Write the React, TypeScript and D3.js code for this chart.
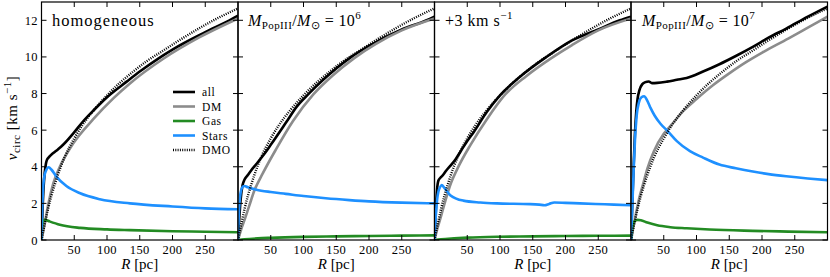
import * as d3 from "d3"
import React from "react"

type Pt = [number, number]

// axis ticks
const rTicks = [50, 100, 150, 200, 250]
const vTicks = [0, 2, 4, 6, 8, 10, 12]

// dark-matter-only run, same in every panel
const dmo: Pt[] = [[0, 0], [3, 0.55], [6, 1.05], [10, 1.7], [15, 2.4], [20, 3.0], [25, 3.55], [35, 4.5], [50, 5.55], [62, 6.25], [80, 7.1], [100, 7.9], [120, 8.6], [140, 9.2], [160, 9.75], [186, 10.35], [210, 10.9], [240, 11.55], [268, 12.1], [300, 12.65]]

// homogeneous
const allHom: Pt[] = [[0, 0], [2, 2.0], [4, 3.3], [6, 4.0], [8, 4.35], [12, 4.55], [18, 4.75], [25, 4.95], [33, 5.2], [48, 5.8], [64, 6.5], [80, 7.1], [100, 7.8], [130, 8.65], [150, 9.2], [180, 9.95], [200, 10.4], [250, 11.35], [287, 12.0], [300, 12.25]]
const dmHom: Pt[] = [[0, 0], [5, 0.9], [10, 1.9], [18, 3.1], [28, 4.0], [48, 5.25], [79, 6.6], [110, 7.75], [135, 8.55], [186, 9.9], [240, 11.05], [300, 12.1]]
const gasHom: Pt[] = [[0, 0], [1, 0.7], [3, 1.05], [6, 1.1], [12, 1.02], [28, 0.83], [59, 0.66], [100, 0.58], [135, 0.54], [200, 0.48], [250, 0.45], [300, 0.42]]
const starsHom: Pt[] = [[0, 0], [1, 1.5], [2, 2.6], [4, 3.4], [7, 3.8], [11, 3.97], [15, 3.85], [23, 3.45], [38, 2.95], [59, 2.55], [89, 2.23], [135, 2.0], [200, 1.83], [250, 1.73], [300, 1.68]]

// M_PopIII = 1e6
const all6: Pt[] = [[0, 0], [2, 1.2], [4, 2.2], [7, 3.0], [10, 3.3], [15, 3.55], [20, 3.8], [28, 4.15], [38, 4.6], [50, 5.2], [73, 6.4], [90, 7.3], [107, 7.95], [130, 8.75], [171, 9.95], [200, 10.6], [250, 11.5], [288, 12.0], [300, 12.2]]
const dm6: Pt[] = [[0, 0], [5, 0.6], [10, 1.1], [17, 1.85], [25, 2.7], [38, 3.65], [58, 4.95], [84, 6.5], [115, 7.95], [145, 9.0], [178, 9.95], [210, 10.7], [250, 11.45], [300, 12.1]]
const gas6: Pt[] = [[0, 0], [10, 0.04], [30, 0.09], [50, 0.12], [100, 0.17], [150, 0.2], [200, 0.22], [250, 0.24], [300, 0.25]]
const stars6: Pt[] = [[0, 0], [1, 1.2], [3, 2.3], [5, 2.75], [8, 2.93], [10, 2.95], [15, 2.88], [28, 2.75], [50, 2.62], [73, 2.52], [100, 2.4], [134, 2.28], [170, 2.18], [200, 2.11], [250, 2.04], [300, 2.0]]

// +3 km/s
const allKick: Pt[] = [[0, 0], [2, 1.6], [4, 2.8], [6, 3.25], [9, 3.4], [13, 3.55], [18, 3.8], [24, 4.05], [32, 4.4], [40, 4.85], [48, 5.3], [60, 5.9], [80, 7.0], [100, 7.9], [130, 8.9], [171, 10.0], [210, 10.9], [250, 11.5], [283, 12.0], [300, 12.2]]
const dmKick: Pt[] = [[0, 0], [5, 0.7], [10, 1.3], [15, 1.95], [25, 3.1], [35, 3.9], [55, 5.2], [80, 6.6], [108, 7.95], [140, 8.95], [179, 9.95], [210, 10.65], [250, 11.45], [300, 12.1]]
const gasKick: Pt[] = [[0, 0], [10, 0.04], [30, 0.09], [50, 0.13], [100, 0.18], [150, 0.2], [200, 0.22], [250, 0.23], [300, 0.24]]
const starsKick: Pt[] = [[0, 0], [2, 1.3], [4, 2.2], [6, 2.65], [8, 2.85], [11, 3.0], [15, 2.85], [24, 2.45], [44, 2.15], [70, 2.05], [95, 2.0], [146, 1.96], [160, 1.93], [168, 1.9], [175, 1.97], [183, 2.05], [200, 2.03], [222, 2.0], [260, 1.95], [300, 1.9]]

// M_PopIII = 1e7
const all7: Pt[] = [[0, 0], [2, 2.0], [4, 4.0], [6, 5.8], [8, 7.0], [10, 7.7], [13, 8.2], [17, 8.5], [22, 8.62], [27, 8.66], [32, 8.57], [40, 8.58], [55, 8.65], [70, 8.75], [85, 8.85], [110, 9.2], [135, 9.6], [160, 10.05], [186, 10.55], [210, 11.05], [237, 11.55], [270, 12.2], [300, 12.75]]
const dm7: Pt[] = [[0, 0], [3, 0.6], [6, 1.15], [12, 2.2], [18, 3.0], [25, 3.9], [35, 4.85], [50, 5.8], [62, 6.3], [80, 7.05], [100, 7.7], [125, 8.45], [150, 9.1], [175, 9.7], [201, 10.25], [240, 11.0], [270, 11.6], [300, 12.2]]
const gas7: Pt[] = [[0, 0], [2, 0.6], [5, 1.0], [10, 1.1], [15, 1.08], [25, 0.95], [40, 0.8], [60, 0.7], [85, 0.64], [120, 0.57], [186, 0.5], [240, 0.46], [300, 0.42]]
const stars7: Pt[] = [[0, 0], [2, 1.8], [4, 3.8], [6, 5.4], [9, 6.9], [12, 7.5], [16, 7.8], [20, 7.85], [25, 7.6], [30, 7.2], [36, 6.8], [45, 6.35], [56, 5.95], [70, 5.4], [90, 4.85], [110, 4.5], [135, 4.12], [160, 3.92], [186, 3.74], [210, 3.6], [237, 3.48], [270, 3.36], [300, 3.27]]

const legendItems = ["all", "DM", "Gas", "Stars", "DMO"]

const colors: Record<string, string> = {
  all: "#000000",
  DM: "#8c8c8c",
  Gas: "#238b23",
  Stars: "#1e90ff",
  DMO: "#000000",
}

const serif = { fontFamily: "Liberation Serif" }

const left = 41.5
const pw = 196.5
const top = 2
const bottom = 240

function Title({ i, x, y }: { i: number; x: number; y: number }) {
  if (i === 0)
    return (
      <text x={x} y={y} fontSize={16.5} letterSpacing={1} style={serif}>
        homogeneous
      </text>
    )
  if (i === 2)
    return (
      <text x={x} y={y} fontSize={16} letterSpacing={0.5} style={serif}>
        +3 km s<tspan dy={-6.5} fontSize={11}>−1</tspan>
      </text>
    )
  const exp = i === 1 ? "6" : "7"
  return (
    <text x={x} y={y} fontSize={16} letterSpacing={0.4} style={serif}>
      <tspan fontStyle="italic">M</tspan>
      <tspan dy={3} fontSize={11}>PopIII</tspan>
      <tspan dy={-3}>/</tspan>
      <tspan fontStyle="italic">M</tspan>
      <tspan dy={3} fontSize={11}>⊙</tspan>
      <tspan dy={-3}> = 10</tspan>
      <tspan dy={-6.5} fontSize={11}>{exp}</tspan>
    </text>
  )
}

export default function App() {
  const panels = [
    { all: allHom, dm: dmHom, gas: gasHom, stars: starsHom, tx: 52 },
    { all: all6, dm: dm6, gas: gas6, stars: stars6, tx: 248 },
    { all: allKick, dm: dmKick, gas: gasKick, stars: starsKick, tx: 445 },
    { all: all7, dm: dm7, gas: gas7, stars: stars7, tx: 642 },
  ]

  const y = d3.scaleLinear().domain([0, 13]).range([bottom, top])

  return (
    <svg width={830} height={277} style={{ position: "absolute", left: 0, top: 0, background: "#fff" }}>
      <defs>
        {panels.map((p, i) => (
          <clipPath id={"clip" + i} key={i}>
            <rect x={left + i * pw} y={top} width={pw} height={bottom - top} />
          </clipPath>
        ))}
      </defs>
      {panels.map((p, i) => {
        const x0 = left + i * pw
        const x = d3.scaleLinear().domain([0, 300]).range([x0, x0 + pw])
        const line = d3
          .line<Pt>()
          .x((d) => x(d[0]))
          .y((d) => y(d[1]))
          .curve(d3.curveMonotoneX)
        return (
          <g key={i}>
            <g clipPath={`url(#clip${i})`} fill="none" strokeLinejoin="round">
              <path d={line(p.all)!} stroke={colors.all} strokeWidth={2.6} />
              <path d={line(p.dm)!} stroke={colors.DM} strokeWidth={2.6} />
              <path d={line(p.gas)!} stroke={colors.Gas} strokeWidth={2.6} />
              <path d={line(p.stars)!} stroke={colors.Stars} strokeWidth={2.6} />
              <path d={line(dmo)!} stroke={colors.DMO} strokeWidth={2.4} strokeDasharray="1,1.3" />
            </g>
            {/* ticks, inward on all sides */}
            <g stroke="#000" strokeWidth={1}>
              {rTicks.map((t) => (
                <g key={t}>
                  <line x1={x(t)} x2={x(t)} y1={bottom} y2={bottom - 5} />
                  <line x1={x(t)} x2={x(t)} y1={top} y2={top + 5} />
                </g>
              ))}
              {vTicks.map((t) => (
                <g key={t}>
                  <line x1={x0} x2={x0 + 5} y1={y(t)} y2={y(t)} />
                  <line x1={x0 + pw} x2={x0 + pw - 5} y1={y(t)} y2={y(t)} />
                </g>
              ))}
            </g>
            <rect x={x0} y={top} width={pw} height={bottom - top} fill="none" stroke="#000" strokeWidth={1.2} />
            {rTicks.map((t) => (
              <text key={t} x={x(t)} y={253.5} fontSize={12.5} letterSpacing={0.4} textAnchor="middle" style={serif}>
                {t}
              </text>
            ))}
            <text x={x(150)} y={269} fontSize={15} textAnchor="middle" style={serif}>
              <tspan fontStyle="italic">R</tspan> [pc]
            </text>
            <Title i={i} x={p.tx} y={25.5} />
          </g>
        )
      })}
      {vTicks.map((t) => (
        <text key={t} x={38} y={y(t) + 4.5} fontSize={12.5} letterSpacing={0.4} textAnchor="end" style={serif}>
          {t}
        </text>
      ))}
      <text transform="translate(17,118) rotate(-90)" fontSize={15} letterSpacing={0.5} textAnchor="middle" style={serif}>
        <tspan fontStyle="italic">v</tspan>
        <tspan dy={3} fontSize={11}>circ</tspan>
        <tspan dy={-3}> [km s</tspan>
        <tspan dy={-6.5} fontSize={11}>−1</tspan>
        <tspan dy={6.5}>]</tspan>
      </text>
      <g>
        {legendItems.map((k, j) => {
          const ly = 92 + j * 14.5
          return (
            <g key={k}>
              <line
                x1={173}
                x2={195}
                y1={ly}
                y2={ly}
                stroke={colors[k]}
                strokeWidth={k === "DMO" ? 2.4 : 2.6}
                strokeDasharray={k === "DMO" ? "1,1.3" : undefined}
              />
              <text x={202} y={ly + 4} fontSize={11.5} letterSpacing={0.6} style={serif}>
                {k}
              </text>
            </g>
          )
        })}
      </g>
    </svg>
  )
}
